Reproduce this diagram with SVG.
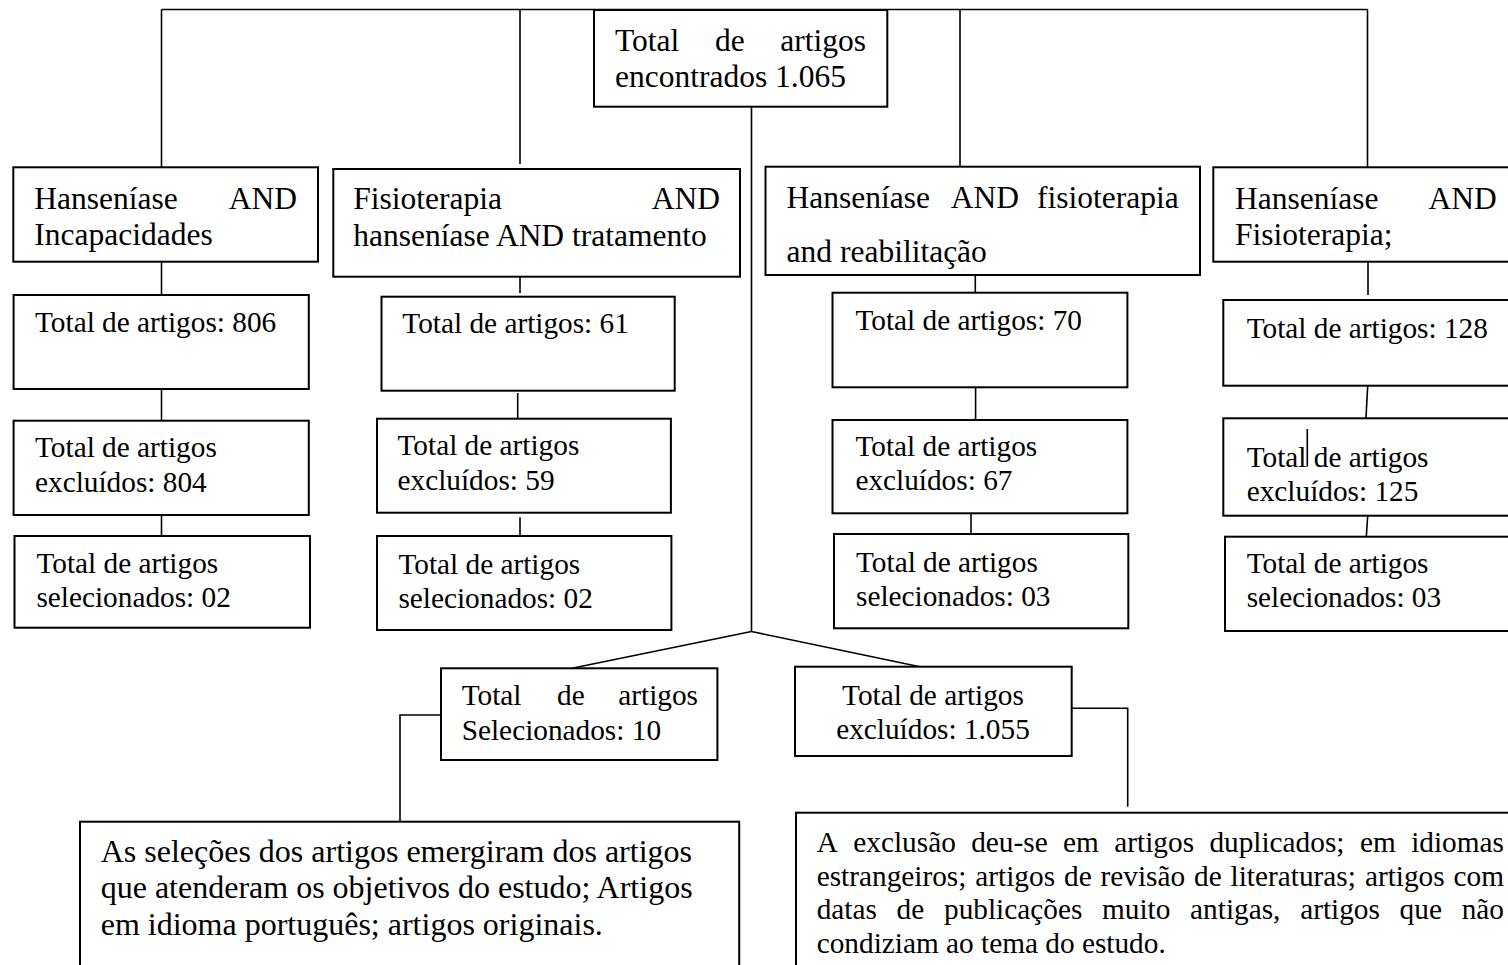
<svg xmlns="http://www.w3.org/2000/svg" width="1508" height="965" viewBox="0 0 1508 965">
<style>
  .box { fill: #fff; stroke: #000; stroke-width: 2; }
  .ln { fill: none; stroke: #000; stroke-width: 1.6; }
  text { font-family: "Liberation Serif", "Times New Roman", serif; fill: #000; }
  .h { font-size: 31.5px; }
  .s { font-size: 29.3px; }
  .b { font-size: 32px; }
</style>
<rect width="1508" height="965" fill="#fff"/>
<g id="connectors">
  <path class="ln" d="M161.5 9.5 H1367.5"/>
  <path class="ln" d="M161.5 9.5 V167.3"/>
  <path class="ln" d="M520 9.5 V164"/>
  <path class="ln" d="M960 9.5 V166.7"/>
  <path class="ln" d="M1367.5 9.5 V167.3"/>
  <path class="ln" d="M751.5 106.7 V631.5"/>
  <path class="ln" d="M751.5 631.5 L572 668.3"/>
  <path class="ln" d="M751.5 631.5 L920 666.7"/>
  <path class="ln" d="M161.5 261.7 V295"/>
  <path class="ln" d="M161.5 389 V420.7"/>
  <path class="ln" d="M161.5 515 V536"/>
  <path class="ln" d="M520 274 V293"/>
  <path class="ln" d="M517.7 393 V418"/>
  <path class="ln" d="M520 517.3 V536"/>
  <path class="ln" d="M975.3 275 V293"/>
  <path class="ln" d="M975.6 387 V420"/>
  <path class="ln" d="M971 513.3 V534"/>
  <path class="ln" d="M1368 262 V295"/>
  <path class="ln" d="M1367.7 386 L1365.7 423"/>
  <path class="ln" d="M1367.7 515.7 L1366.3 536.7"/>
  <path class="ln" d="M441 715 H400 V821.7"/>
  <path class="ln" d="M1071.7 708.3 H1127.7 V806.7"/>
</g>
<g id="n-total">
  <rect class="box" x="594" y="10" width="293.3" height="96.7"/>
  <text class="h" x="615" y="50.7">Total</text>
  <text class="h" x="715" y="50.7">de</text>
  <text class="h" x="866" y="50.7" text-anchor="end">artigos</text>
  <text class="h" x="615" y="86.7">encontrados 1.065</text>
</g>
<g id="n-a">
  <rect class="box" x="13.3" y="167.3" width="304.7" height="94.4"/>
  <text class="h" x="34.3" y="209">Hanseníase</text>
  <text class="h" x="297" y="209" text-anchor="end">AND</text>
  <text class="h" x="34.3" y="245">Incapacidades</text>
</g>
<g id="n-b">
  <rect class="box" x="333.3" y="169" width="406.7" height="107.7"/>
  <text class="h" x="353.3" y="209">Fisioterapia</text>
  <text class="h" x="720" y="209" text-anchor="end">AND</text>
  <text class="h" x="353.3" y="245.5">hanseníase AND tratamento</text>
</g>
<g id="n-c">
  <rect class="box" x="765.5" y="166.7" width="434.5" height="108.3"/>
  <text class="h" x="786.6" y="208.3">Hanseníase</text>
  <text class="h" x="950.8" y="208.3">AND</text>
  <text class="h" x="1178.7" y="208.3" text-anchor="end">fisioterapia</text>
  <text class="h" x="786.6" y="262">and reabilitação</text>
</g>
<g id="n-d">
  <rect class="box" x="1213.3" y="167.3" width="310" height="94.4"/>
  <text class="h" x="1235" y="209.3">Hanseníase</text>
  <text class="h" x="1496.7" y="209.3" text-anchor="end">AND</text>
  <text class="h" x="1235" y="245">Fisioterapia;</text>
</g>
<g id="n-a1">
  <rect class="box" x="13.6" y="295" width="295.2" height="94"/>
  <text class="s" x="35" y="331.7">Total de artigos: 806</text>
</g>
<g id="n-a2">
  <rect class="box" x="13.6" y="420.7" width="295.2" height="94.3"/>
  <text class="s" x="35" y="456.7">Total de artigos</text>
  <text class="s" x="35" y="491.7">excluídos: 804</text>
</g>
<g id="n-a3">
  <rect class="box" x="14.5" y="536" width="295.5" height="91.7"/>
  <text class="s" x="36.4" y="573.3">Total de artigos</text>
  <text class="s" x="36.4" y="607.3">selecionados: 02</text>
</g>
<g id="n-b1">
  <rect class="box" x="381.5" y="296.7" width="293.2" height="94"/>
  <text class="s" x="402.3" y="333.3">Total de artigos: 61</text>
</g>
<g id="n-b2">
  <rect class="box" x="377" y="418.7" width="293.9" height="94"/>
  <text class="s" x="397.5" y="455">Total de artigos</text>
  <text class="s" x="397.5" y="489.5">excluídos: 59</text>
</g>
<g id="n-b3">
  <rect class="box" x="377" y="536" width="294.4" height="94"/>
  <text class="s" x="398.4" y="573.5">Total de artigos</text>
  <text class="s" x="398.4" y="607.5">selecionados: 02</text>
</g>
<g id="n-c1">
  <rect class="box" x="832.5" y="292.7" width="294.9" height="94.6"/>
  <text class="s" x="855.4" y="330">Total de artigos: 70</text>
</g>
<g id="n-c2">
  <rect class="box" x="832.5" y="420" width="294.9" height="93.3"/>
  <text class="s" x="855.4" y="456">Total de artigos</text>
  <text class="s" x="855.4" y="490">excluídos: 67</text>
</g>
<g id="n-c3">
  <rect class="box" x="834" y="534" width="294.3" height="94.3"/>
  <text class="s" x="856" y="572">Total de artigos</text>
  <text class="s" x="856" y="606">selecionados: 03</text>
</g>
<g id="n-d1">
  <rect class="box" x="1223.3" y="300" width="300" height="85.7"/>
  <text class="s" x="1246.7" y="338.3">Total de artigos: 128</text>
</g>
<g id="n-d2">
  <rect class="box" x="1223.3" y="418.3" width="300" height="97.4"/>
  <text class="s" x="1246.7" y="466.7">Total de artigos</text>
  <text class="s" x="1246.7" y="501">excluídos: 125</text>
  <path class="ln" d="M1307.3 429 V466.7" stroke-width="2"/>
</g>
<g id="n-d3">
  <rect class="box" x="1225" y="536.7" width="300" height="94.3"/>
  <text class="s" x="1246.7" y="573">Total de artigos</text>
  <text class="s" x="1246.7" y="606.7">selecionados: 03</text>
</g>
<g id="n-sel">
  <rect class="box" x="441" y="668.3" width="276.4" height="91.7"/>
  <text class="s" x="461.7" y="705">Total</text>
  <text class="s" x="557.1" y="705">de</text>
  <text class="s" x="698" y="705" text-anchor="end">artigos</text>
  <text class="s" x="461.7" y="740">Selecionados: 10</text>
</g>
<g id="n-exc">
  <rect class="box" x="795" y="666.7" width="276.7" height="89.3"/>
  <text class="s" x="933" y="705" text-anchor="middle">Total de artigos</text>
  <text class="s" x="933" y="739.3" text-anchor="middle">excluídos: 1.055</text>
</g>
<g id="n-incl">
  <rect class="box" x="80" y="821.7" width="659.2" height="160"/>
  <text class="b" x="100.7" y="861.7">As seleções dos artigos emergiram dos artigos</text>
  <text class="b" x="100.7" y="898.3">que atenderam os objetivos do estudo; Artigos</text>
  <text class="b" x="100.7" y="935">em idioma português; artigos originais.</text>
</g>
<g id="n-excl">
  <rect class="box" x="796" y="812.7" width="730" height="170"/>
  <text class="s" y="852"><tspan x="816.7">A</tspan><tspan x="853.3">exclusão</tspan><tspan x="971.2">deu-se</tspan><tspan x="1063.1">em</tspan><tspan x="1114.3">artigos</tspan><tspan x="1209.4">duplicados;</tspan><tspan x="1360">em</tspan><tspan x="1411.2">idiomas</tspan></text>
  <text class="s" y="885.5"><tspan x="816.7">estrangeiros;</tspan><tspan x="975.3">artigos</tspan><tspan x="1064">de</tspan><tspan x="1100.5">revisão</tspan><tspan x="1194.1">de</tspan><tspan x="1230.6">literaturas;</tspan><tspan x="1364.9">artigos</tspan><tspan x="1453.5">com</tspan></text>
  <text class="s" y="919"><tspan x="816.7">datas</tspan><tspan x="896.6">de</tspan><tspan x="944">publicações</tspan><tspan x="1102">muito</tspan><tspan x="1190.1">antigas,</tspan><tspan x="1300.2">artigos</tspan><tspan x="1399.6">que</tspan><tspan x="1461.7">não</tspan></text>
  <text class="s" x="816.7" y="952.5">condiziam ao tema do estudo.</text>
</g>
</svg>
